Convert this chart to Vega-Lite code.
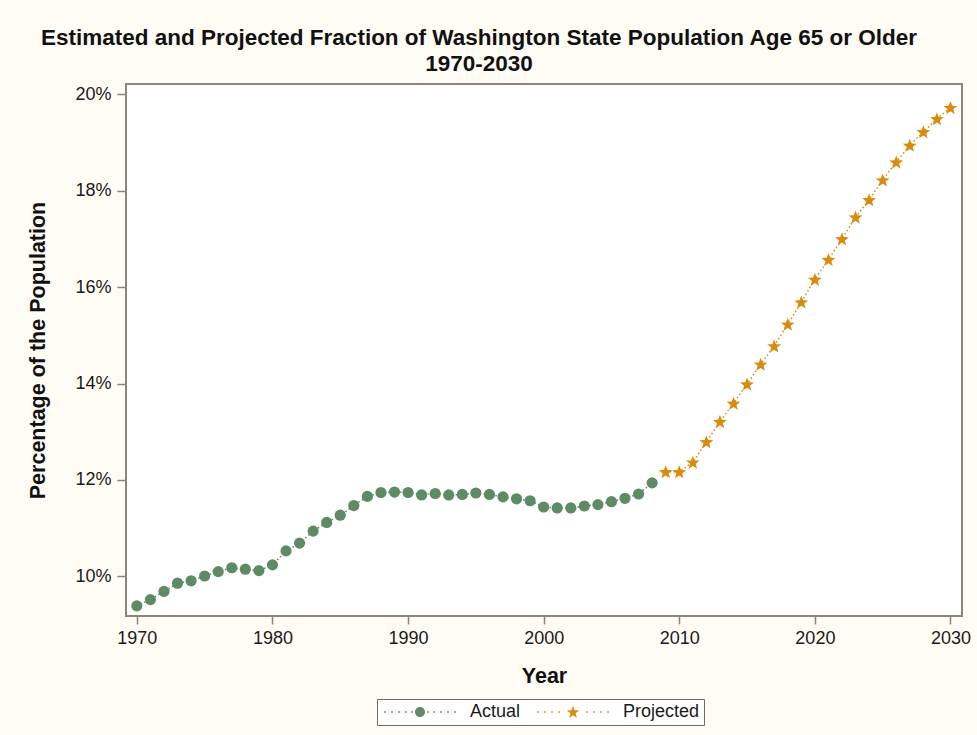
{
  "$schema": "https://vega.github.io/schema/vega-lite/v6.json",
  "width": 836,
  "height": 532,
  "autosize": "none",
  "padding": {"left": 126, "top": 84, "right": 15, "bottom": 119},
  "background": "#fffcf5",
  "title": {
    "text": ["Estimated and Projected Fraction of Washington State Population Age 65 or Older", "1970-2030"],
    "font": "Liberation Sans",
    "fontSize": 22.5,
    "fontWeight": "bold",
    "color": "#111111",
    "lineHeight": 26,
    "anchor": "middle",
    "dx": -65,
    "offset": 9
  },
  "config": {
    "view": {"stroke": "#8a857d", "strokeWidth": 2, "fill": "#ffffff"},
    "font": "Liberation Sans",
    "axis": {
      "domain": false,
      "grid": false,
      "tickColor": "#8a857d",
      "tickWidth": 1.5,
      "labelFont": "Liberation Sans",
      "labelFontSize": 18,
      "labelColor": "#1a1a1a",
      "titleFont": "Liberation Sans",
      "titleFontSize": 21.5,
      "titleFontWeight": "bold",
      "titleColor": "#111111"
    }
  },
  "data": {
    "values": [
      {"year": 1970, "pct": 9.39, "series": "Actual"},
      {"year": 1971, "pct": 9.52, "series": "Actual"},
      {"year": 1972, "pct": 9.69, "series": "Actual"},
      {"year": 1973, "pct": 9.86, "series": "Actual"},
      {"year": 1974, "pct": 9.91, "series": "Actual"},
      {"year": 1975, "pct": 10.01, "series": "Actual"},
      {"year": 1976, "pct": 10.10, "series": "Actual"},
      {"year": 1977, "pct": 10.18, "series": "Actual"},
      {"year": 1978, "pct": 10.15, "series": "Actual"},
      {"year": 1979, "pct": 10.12, "series": "Actual"},
      {"year": 1980, "pct": 10.24, "series": "Actual"},
      {"year": 1981, "pct": 10.53, "series": "Actual"},
      {"year": 1982, "pct": 10.69, "series": "Actual"},
      {"year": 1983, "pct": 10.94, "series": "Actual"},
      {"year": 1984, "pct": 11.12, "series": "Actual"},
      {"year": 1985, "pct": 11.27, "series": "Actual"},
      {"year": 1986, "pct": 11.47, "series": "Actual"},
      {"year": 1987, "pct": 11.66, "series": "Actual"},
      {"year": 1988, "pct": 11.74, "series": "Actual"},
      {"year": 1989, "pct": 11.75, "series": "Actual"},
      {"year": 1990, "pct": 11.74, "series": "Actual"},
      {"year": 1991, "pct": 11.69, "series": "Actual"},
      {"year": 1992, "pct": 11.72, "series": "Actual"},
      {"year": 1993, "pct": 11.69, "series": "Actual"},
      {"year": 1994, "pct": 11.70, "series": "Actual"},
      {"year": 1995, "pct": 11.73, "series": "Actual"},
      {"year": 1996, "pct": 11.70, "series": "Actual"},
      {"year": 1997, "pct": 11.65, "series": "Actual"},
      {"year": 1998, "pct": 11.61, "series": "Actual"},
      {"year": 1999, "pct": 11.57, "series": "Actual"},
      {"year": 2000, "pct": 11.44, "series": "Actual"},
      {"year": 2001, "pct": 11.42, "series": "Actual"},
      {"year": 2002, "pct": 11.42, "series": "Actual"},
      {"year": 2003, "pct": 11.46, "series": "Actual"},
      {"year": 2004, "pct": 11.49, "series": "Actual"},
      {"year": 2005, "pct": 11.55, "series": "Actual"},
      {"year": 2006, "pct": 11.62, "series": "Actual"},
      {"year": 2007, "pct": 11.71, "series": "Actual"},
      {"year": 2008, "pct": 11.94, "series": "Actual"},
      {"year": 2009, "pct": 12.17, "series": "Projected"},
      {"year": 2010, "pct": 12.17, "series": "Projected"},
      {"year": 2011, "pct": 12.37, "series": "Projected"},
      {"year": 2012, "pct": 12.79, "series": "Projected"},
      {"year": 2013, "pct": 13.21, "series": "Projected"},
      {"year": 2014, "pct": 13.59, "series": "Projected"},
      {"year": 2015, "pct": 13.99, "series": "Projected"},
      {"year": 2016, "pct": 14.40, "series": "Projected"},
      {"year": 2017, "pct": 14.78, "series": "Projected"},
      {"year": 2018, "pct": 15.23, "series": "Projected"},
      {"year": 2019, "pct": 15.69, "series": "Projected"},
      {"year": 2020, "pct": 16.16, "series": "Projected"},
      {"year": 2021, "pct": 16.57, "series": "Projected"},
      {"year": 2022, "pct": 17.00, "series": "Projected"},
      {"year": 2023, "pct": 17.45, "series": "Projected"},
      {"year": 2024, "pct": 17.81, "series": "Projected"},
      {"year": 2025, "pct": 18.22, "series": "Projected"},
      {"year": 2026, "pct": 18.59, "series": "Projected"},
      {"year": 2027, "pct": 18.94, "series": "Projected"},
      {"year": 2028, "pct": 19.22, "series": "Projected"},
      {"year": 2029, "pct": 19.49, "series": "Projected"},
      {"year": 2030, "pct": 19.72, "series": "Projected"}
    ]
  },
  "encoding": {
    "x": {
      "field": "year",
      "type": "quantitative",
      "scale": {"domain": [1969.2, 2030.85], "nice": false, "zero": false},
      "axis": {
        "title": "Year",
        "values": [1970, 1980, 1990, 2000, 2010, 2020, 2030],
        "format": "d",
        "tickSize": 8,
        "labelPadding": 5,
        "titlePadding": 18
      }
    },
    "y": {
      "field": "pct",
      "type": "quantitative",
      "scale": {"domain": [9.18, 20.21], "nice": false, "zero": false},
      "axis": {
        "title": "Percentage of the Population",
        "values": [10, 12, 14, 16, 18, 20],
        "labelExpr": "datum.value + '%'",
        "tickSize": 9,
        "labelPadding": 6,
        "titlePadding": 25
      }
    },
    "color": {
      "field": "series",
      "type": "nominal",
      "scale": {"domain": ["Actual", "Projected"], "range": ["#5e8b64", "#da8a0c"]},
      "legend": {
        "title": null,
        "orient": "none",
        "direction": "horizontal",
        "legendX": 251,
        "legendY": 615,
        "padding": 4,
        "strokeColor": "#6e6a64",
        "fillColor": "#ffffff",
        "labelFont": "Liberation Sans",
        "labelFontSize": 18,
        "labelColor": "#1a1a1a",
        "symbolSize": 100,
        "symbolStrokeWidth": 0,
        "symbolOpacity": 1,
        "labelOffset": 71,
        "columnPadding": 13,
        "encode": {
          "symbols": {
            "update": {
              "shape": {"signal": "datum.value === 'Actual' ? 'M-1.17,-0.17h0.34v0.34h-0.34ZM0.23,-0.17h0.34v0.34h-0.34ZM1.63,-0.17h0.34v0.34h-0.34ZM3.03,-0.17h0.34v0.34h-0.34ZM4.23,-0.17h0.34v0.34h-0.34ZM7.43,-0.17h0.34v0.34h-0.34ZM8.63,-0.17h0.34v0.34h-0.34ZM10.03,-0.17h0.34v0.34h-0.34ZM11.43,-0.17h0.34v0.34h-0.34ZM12.83,-0.17h0.34v0.34h-0.34ZM5,0A1,1 0 1,0 7,0A1,1 0 1,0 5,0Z' : 'M-1.17,-0.17h0.34v0.34h-0.34ZM0.23,-0.17h0.34v0.34h-0.34ZM1.63,-0.17h0.34v0.34h-0.34ZM3.03,-0.17h0.34v0.34h-0.34ZM8.63,-0.17h0.34v0.34h-0.34ZM10.03,-0.17h0.34v0.34h-0.34ZM11.43,-0.17h0.34v0.34h-0.34ZM12.83,-0.17h0.34v0.34h-0.34ZM6,-1.2L6.321,-0.342L7.236,-0.302L6.519,0.269L6.764,1.152L6,0.646L5.236,1.152L5.481,0.269L4.764,-0.302L5.679,-0.342Z'"}
            }
          }
        }
      }
    }
  },
  "layer": [
    {
      "mark": {"type": "line", "strokeDash": [1.5, 2.5], "strokeWidth": 1.5},
      "encoding": {
        "detail": {"field": "series"}
      }
    },
    {
      "transform": [{"filter": "datum.series === 'Actual'"}],
      "mark": {"type": "point", "filled": true, "opacity": 1, "shape": "circle", "size": 125}
    },
    {
      "transform": [{"filter": "datum.series === 'Projected'"}],
      "mark": {"type": "point", "filled": true, "opacity": 1, "size": 115, "shape": "M0,-1.22L0.333,-0.329L1.284,-0.287L0.539,0.306L0.794,1.222L0,0.697L-0.794,1.222L-0.539,0.306L-1.284,-0.287L-0.333,-0.329Z"}
    }
  ]
}
